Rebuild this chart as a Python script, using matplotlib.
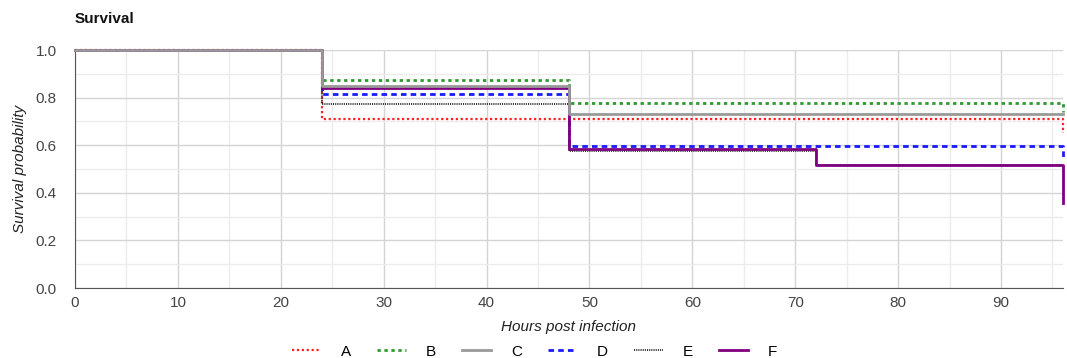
import matplotlib.pyplot as plt
import numpy as np

plt.rcParams['font.family'] = ['Liberation Sans', 'DejaVu Sans']

# survival curves (Kaplan-Meier style steps)
hours = [0, 24, 48, 72, 96]
surv_A = [1.0, 0.71, 0.71, 0.71, 0.65]
surv_B = [1.0, 0.874, 0.777, 0.777, 0.74]
surv_C = [1.0, 0.85, 0.73, 0.73, 0.73]
surv_D = [1.0, 0.815, 0.597, 0.597, 0.55]
surv_E = [1.0, 0.773, 0.575, 0.515, 0.515]
surv_F = [1.0, 0.84, 0.584, 0.517, 0.357]
names = ['A', 'B', 'C', 'D', 'E', 'F']

fig = plt.figure(figsize=(10.67, 3.58), dpi=100)
ax = fig.add_axes([0.0703, 0.1955, 0.9257, 0.6645])

ax.step(hours, surv_A, where='post', color='#ff2020', lw=1.6, ls=(0, (1, 1.2)), label=names[0], zorder=3, clip_on=False)
ax.step(hours, surv_B, where='post', color='#2e9a2e', lw=2, ls=(0, (1.2, 1.3)), label=names[1], zorder=3, clip_on=False)
ax.step(hours, surv_C, where='post', color='#999999', lw=2, ls='-', label=names[2], zorder=5, clip_on=False)
ax.step(hours, surv_D, where='post', color='#1a1aff', lw=2, ls=(0, (2, 1.5)), label=names[3], zorder=3, clip_on=False)
ax.step(hours, surv_E, where='post', color='#222222', lw=1.3, ls=(0, (0.6, 0.6)), label=names[4], zorder=3, clip_on=False)
ax.step(hours, surv_F, where='post', color='#800080', lw=2, ls='-', label=names[5], zorder=4, clip_on=False)

ax.set_xlim(0, 96)
ax.set_ylim(0, 1.0)
ax.set_xticks(np.arange(0, 91, 10))
ax.set_xticks(np.arange(0, 97, 5), minor=True)
ax.set_yticks(np.arange(0, 1.01, 0.2))
ax.set_yticks(np.arange(0, 1.01, 0.1), minor=True)
ax.set_yticklabels(['%.1f' % v for v in np.arange(0, 1.01, 0.2)])
ax.grid(which='major', color='#d4d4d4', lw=1)
ax.grid(which='minor', color='#ececec', lw=1)
ax.set_axisbelow(True)
ax.tick_params(which='both', length=0, labelsize=11, labelcolor='#444444')
ax.tick_params(axis='x', pad=6)
ax.tick_params(axis='y', pad=13)

for s in ['top', 'right']:
    ax.spines[s].set_visible(False)
for s in ['left', 'bottom']:
    ax.spines[s].set_color('#555555')

ax.set_xlabel('Hours post infection', fontstyle='italic', fontsize=11, color='#222222', labelpad=7)
ax.set_ylabel('Survival probability', fontstyle='italic', fontsize=11, color='#222222', labelpad=6)
fig.text(0.0703, 0.935, 'Survival', fontsize=11, fontweight='bold', color='#111111')

fig.legend(loc='lower center', bbox_to_anchor=(0.501, -0.04), ncol=6, frameon=False,
           fontsize=11, handlelength=1.9, columnspacing=1.7, handletextpad=1.3)

fig.savefig('out.png', dpi=100)
